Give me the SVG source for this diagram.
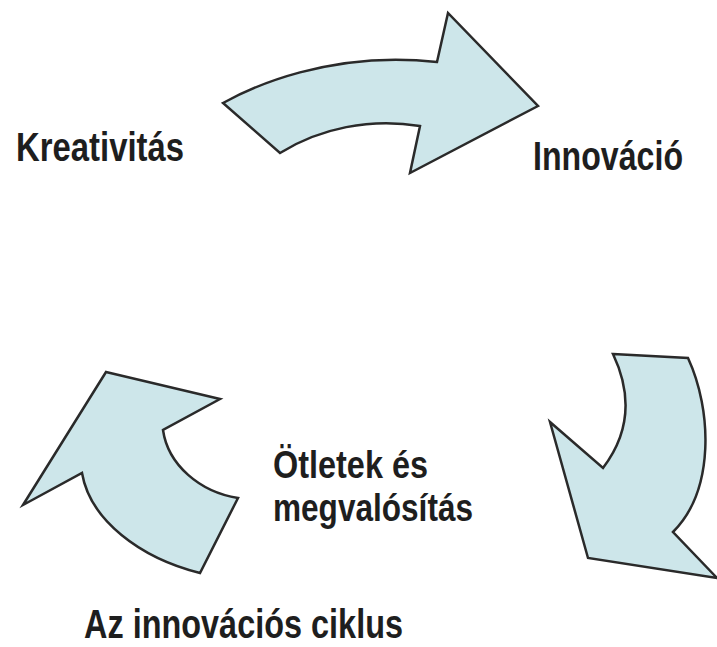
<svg xmlns="http://www.w3.org/2000/svg" width="717" height="647" viewBox="0 0 717 647">
<style>
.arrow{fill:#cde6ea;stroke:#2a2a2a;stroke-width:2.5;stroke-linejoin:miter}
.lbl{font-family:"Liberation Sans",Arial,sans-serif;font-weight:bold;font-size:41px;fill:#1e1e1e}
.lbl2{font-family:"Liberation Sans",Arial,sans-serif;font-weight:bold;font-size:38px;fill:#1e1e1e}
</style>
<rect width="717" height="647" fill="#ffffff"/>
<g id="arrows">
<g id="arrow-top"><path class="arrow" d="M223,103 C250,88 330,50 437,62 L448,13 L538,106 L410,173 L420,126 C370,118 320,128 280,153 Z"/></g>
<g id="arrow-right"><path class="arrow" d="M613,354 L688,358 C712,410 715,490 673,532 L717,578 L588,558 L550,422 L603,468 C632,430 630,390 613,354 Z"/></g>
<g id="arrow-left"><path class="arrow" d="M106,372 L220,399 L163,430 C168,465 200,492 238,498 L200,573 C140,558 90,520 82,473 L23,505 Z"/></g>
</g>
<g id="node-kreativitas"><text class="lbl" transform="translate(16,161) scale(0.79,1)" textLength="212.7" lengthAdjust="spacingAndGlyphs">Kreativitás</text></g>
<g id="node-innovacio"><text class="lbl" transform="translate(533,170) scale(0.79,1)" textLength="189.9" lengthAdjust="spacingAndGlyphs">Innováció</text></g>
<g id="node-otletek"><text class="lbl2" transform="translate(273,478) scale(0.79,1)" textLength="196.2" lengthAdjust="spacingAndGlyphs">Ötletek és</text><text class="lbl2" transform="translate(273,521) scale(0.79,1)" textLength="253.2" lengthAdjust="spacingAndGlyphs">megvalósítás</text></g>
<g id="title"><text class="lbl" transform="translate(84,638) scale(0.79,1)" textLength="403.8" lengthAdjust="spacingAndGlyphs">Az innovációs ciklus</text></g>
</svg>
